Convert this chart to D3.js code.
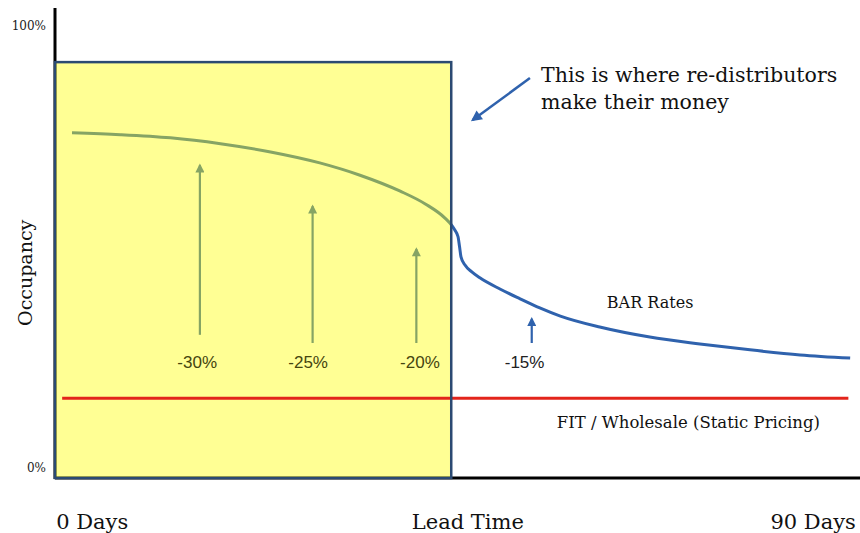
<!DOCTYPE html>
<html>
<head>
<meta charset="utf-8">
<script src="https://cdn.jsdelivr.net/npm/d3@7"></script>
<style>
  html, body { margin: 0; padding: 0; background: #fff; }
  svg { display: block; }
</style>
</head>
<body>
<svg id="chart" width="860" height="533"></svg>
<script>
// ---- data ----
const barDays = [1.9, 7.3, 12.9, 18.5, 24.1, 29.6, 34.1, 38.6, 41.4, 43.6, 44.4, 44.7, 45.06, 45.23, 45.39, 45.84, 46.6, 47.5, 49.8, 52.0, 54.2, 56.5, 60.9, 66.5, 72.1, 77.7, 83.3, 88.9];
const barOccupancy = [75.7, 75.3, 74.6, 73.3, 71.5, 69.1, 66.4, 62.9, 60.1, 57.0, 55.3, 54.4, 52.9, 50.7, 48.5, 46.7, 45.2, 43.9, 41.4, 39.3, 37.3, 35.5, 33.1, 30.9, 29.4, 28.1, 27.0, 26.3];
const fitDays = [0.8, 88.7];
const fitOccupancy = [17.5, 17.5];
const leadTimeDays = 44.3;
const boxTop = 91.2;
const discountLabels = ["-30%", "-25%", "-20%", "-15%"];
const discountDays = [16.2, 28.8, 40.4, 53.3];
const discountFrom = [31.4, 29.6, 29.6, 29.6];
const discountTo = [68.6, 59.6, 50.2, 34.9];
const discountLabelDays = [15.9, 28.3, 40.8, 52.5];
const yTickValues = [0, 100];
const xTickLabels = ["0 Days", "Lead Time", "90 Days"];
const xTickDays = [4.1, 46.1, 84.7];
const calloutLines = ["This is where re-distributors", "make their money"];

// ---- scales ----
const svg = d3.select("#chart");
const x = d3.scaleLinear().domain([0, 90]).range([55, 860]);
const y = d3.scaleLinear().domain([0, 100]).range([478, 22]);

const BLUE = "#2f62ad";
const serif = "Georgia, 'DejaVu Serif', serif";

// defs: arrowheads
const defs = svg.append("defs");
function marker(id, color, w, h) {
  defs.append("marker").attr("id", id)
    .attr("viewBox", "0 0 10 10").attr("refX", 8).attr("refY", 5)
    .attr("markerWidth", w).attr("markerHeight", h)
    .attr("markerUnits", "userSpaceOnUse")
    .attr("orient", "auto")
    .append("path").attr("d", "M0,0 L10,5 L0,10 z").attr("fill", color);
}
marker("ahBlue", BLUE, 10, 9);
marker("ahCall", BLUE, 12, 11);

// axes lines
svg.append("line").attr("x1", x(0)).attr("x2", 860).attr("y1", y(0)).attr("y2", y(0))
  .attr("stroke", "#000").attr("stroke-width", 3);
svg.append("line").attr("x1", x(0)).attr("x2", x(0)).attr("y1", 8).attr("y2", y(0) + 1)
  .attr("stroke", "#000").attr("stroke-width", 3);

const line = d3.line().x(d => x(d[0])).y(d => y(d[1])).curve(d3.curveMonotoneX);

// BAR curve
svg.append("path").datum(d3.zip(barDays, barOccupancy)).attr("d", line)
  .attr("fill", "none").attr("stroke", BLUE).attr("stroke-width", 3)
  .attr("stroke-linejoin", "round");

// discount arrows
discountDays.forEach((d, i) => {
  svg.append("line")
    .attr("x1", x(d)).attr("x2", x(d))
    .attr("y1", y(discountFrom[i])).attr("y2", y(discountTo[i]))
    .attr("stroke", BLUE).attr("stroke-width", 2.2)
    .attr("marker-end", "url(#ahBlue)");
});

// box overlay (lead-time window)
svg.append("rect")
  .attr("x", x(0)).attr("y", y(boxTop))
  .attr("width", x(leadTimeDays) - x(0)).attr("height", y(0) - y(boxTop))
  .attr("fill", "rgba(255,255,0,0.42)");

// FIT line (red)
svg.append("path").datum(d3.zip(fitDays, fitOccupancy)).attr("d", line)
  .attr("fill", "none").attr("stroke", "#e3241b").attr("stroke-width", 3);

svg.append("rect")
  .attr("x", x(0)).attr("y", y(boxTop))
  .attr("width", x(leadTimeDays) - x(0)).attr("height", y(0) - y(boxTop))
  .attr("fill", "none").attr("stroke", "#2b4a72").attr("stroke-width", 2.5);

// discount labels
discountLabels.forEach((t, i) => {
  svg.append("text")
    .attr("x", x(discountLabelDays[i])).attr("y", 368)
    .attr("text-anchor", "middle")
    .attr("font-family", "'Liberation Sans', Arial, sans-serif")
    .attr("font-size", 17)
    .attr("fill", i < 3 ? "#45450f" : "#222")
    .text(t);
});

// y axis tick labels
const yAxis = d3.axisLeft(y).tickValues(yTickValues).tickSize(0).tickPadding(5)
  .tickFormat(d => d + "%");
const gy = svg.append("g").attr("transform", `translate(${x(0) - 4},0)`).call(yAxis);
gy.select(".domain").remove();
gy.selectAll("text")
  .attr("font-family", serif).attr("font-size", 12).attr("fill", "#222")
  .attr("dy", d => d === 0 ? "-0.55em" : "0.6em");

// x axis labels
const xAxis = d3.axisBottom(x).tickValues(xTickDays).tickSize(0).tickPadding(36)
  .tickFormat((d, i) => xTickLabels[i]);
const gx = svg.append("g").attr("transform", `translate(0,${y(0)})`).call(xAxis);
gx.select(".domain").remove();
gx.selectAll("text")
  .attr("font-family", serif).attr("font-size", 21).attr("fill", "#111");

// y axis title
svg.append("text")
  .attr("transform", `translate(32,${y(45)}) rotate(-90)`)
  .attr("text-anchor", "middle")
  .attr("font-family", serif).attr("font-size", 19).attr("fill", "#111")
  .text("Occupancy");

// series labels
svg.append("text").attr("x", x(61.7)).attr("y", 308)
  .attr("font-family", serif).attr("font-size", 16).attr("fill", "#111")
  .text("BAR Rates");
svg.append("text").attr("x", x(56.1)).attr("y", 428)
  .attr("font-family", serif).attr("font-size", 16.5).attr("fill", "#111")
  .text("FIT / Wholesale (Static Pricing)");

// callout
svg.append("line")
  .attr("x1", x(53.1)).attr("y1", y(87.7))
  .attr("x2", x(46.7)).attr("y2", y(78.5))
  .attr("stroke", BLUE).attr("stroke-width", 2.5)
  .attr("marker-end", "url(#ahCall)");
calloutLines.forEach((t, i) => {
  svg.append("text").attr("x", 541).attr("y", 82 + i * 27)
    .attr("font-family", serif).attr("font-size", 20.5).attr("fill", "#111")
    .text(t);
});
</script>
</body>
</html>
